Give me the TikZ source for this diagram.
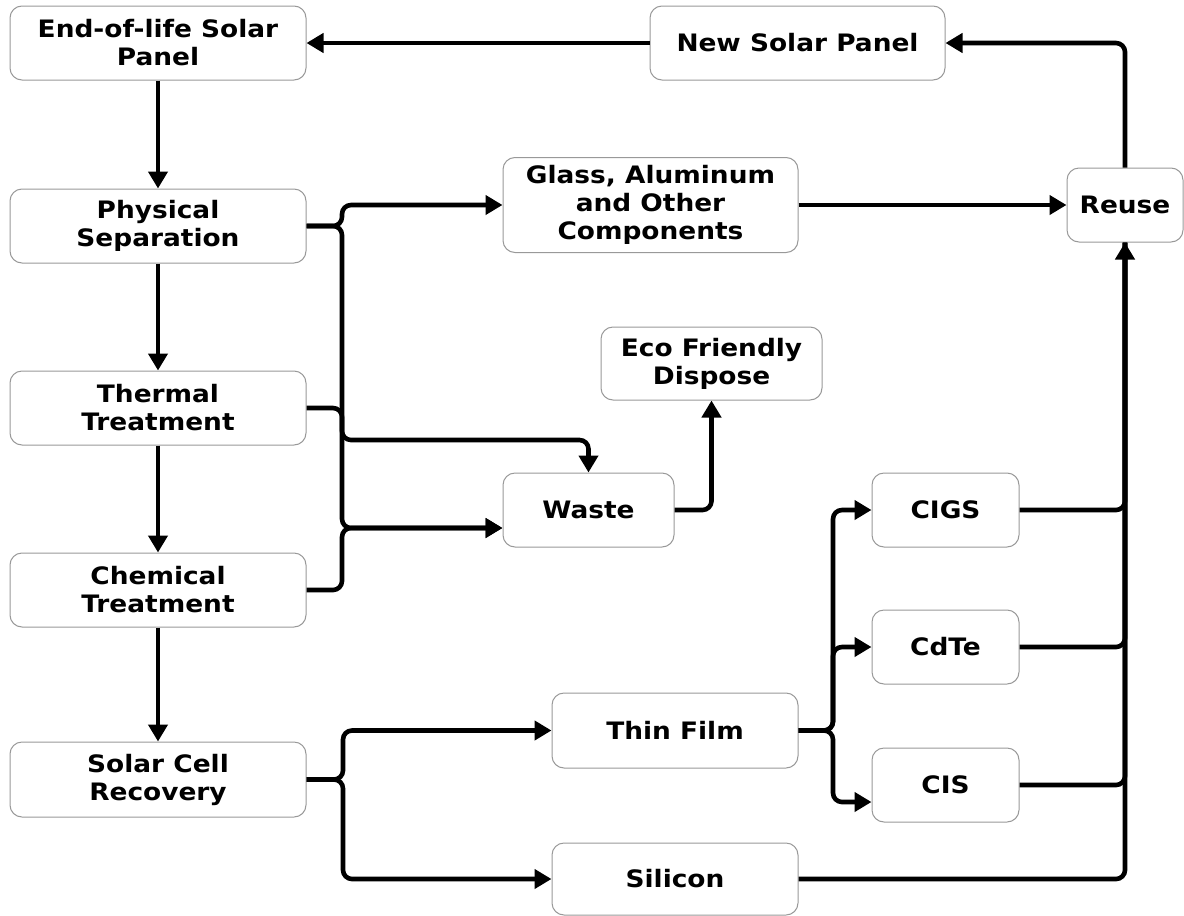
\documentclass[tikz,border=0pt]{standalone}
\usepackage{fontspec}
\setmainfont{DejaVu Sans}[FakeStretch=1.1]
\usetikzlibrary{arrows.meta}
\tikzset{
  box/.style={draw=black!40, line width=1pt, rounded corners=12pt, align=center, inner sep=0pt, fill=white,
    font=\fontsize{24}{28}\selectfont\bfseries},
  conn/.style={line width=4.6pt, rounded corners=9pt},
  arr/.style={conn, -{Triangle[length=17pt,width=19pt]}}
}
\begin{document}
\begin{tikzpicture}[x=1pt,y=-1pt]
\fill[white] (0,0) rectangle (1184,916);
\useasboundingbox (0,0) rectangle (1184,916);

\node[box, minimum width=296pt, minimum height=74pt] (eol) at (158,43) {End-of-life Solar\\Panel};
\node[box, minimum width=295pt, minimum height=74pt] (nsp) at (797.5,43) {New Solar Panel};
\node[box, minimum width=296pt, minimum height=74pt] (phys) at (158,226) {Physical\\Separation};
\node[box, minimum width=295pt, minimum height=95pt] (glass) at (650.5,205) {Glass, Aluminum\\and Other\\Components};
\node[box, minimum width=116pt, minimum height=74pt] (reuse) at (1125,205) {Reuse};
\node[box, minimum width=221pt, minimum height=73pt] (eco) at (711.5,363.5) {Eco Friendly\\Dispose};
\node[box, minimum width=296pt, minimum height=74pt] (therm) at (158,408) {Thermal\\Treatment};
\node[box, minimum width=171pt, minimum height=74pt] (waste) at (588.5,510) {Waste};
\node[box, minimum width=147pt, minimum height=74pt] (cigs) at (945.5,510) {CIGS};
\node[box, minimum width=296pt, minimum height=74pt] (chem) at (158,590) {Chemical\\Treatment};
\node[box, minimum width=147pt, minimum height=74pt] (cdte) at (945.5,647) {CdTe};
\node[box, minimum width=246pt, minimum height=75pt] (thin) at (675,730.5) {Thin Film};
\node[box, minimum width=147pt, minimum height=74pt] (cis) at (945.5,785) {CIS};
\node[box, minimum width=296pt, minimum height=75pt] (scr) at (158,779.5) {Solar Cell\\Recovery};
\node[box, minimum width=246pt, minimum height=72pt] (silicon) at (675,879) {Silicon};

\coordinate (bx) at (342,0);
\coordinate (sx) at (343,0);
\coordinate (tx) at (833,0);
\coordinate (wt) at (0,440);
\coordinate (wl) at ([yshift=-18pt]waste.west);
\coordinate (cl) at ([yshift=-17pt]cis.west);

% main vertical chain
\draw[arr] (eol.south) -- (phys.north);
\draw[arr] (phys.south) -- (therm.north);
\draw[arr] (therm.south) -- (chem.north);
\draw[arr] (chem.south) -- (scr.north);

% top loop
\draw[arr] (nsp.west) -- (eol.east);
\draw[arr] (reuse.north) |- (nsp.east);
\draw[arr] (glass.east) -- (reuse.west);

% separation / treatment bus
\draw[arr] (phys.east) -- (phys.east -| bx) |- (glass.west);
\draw[arr] (phys.east) -- (phys.east -| bx) -- (bx |- wl) -- (wl);
\draw[arr] (chem.east) -- (chem.east -| bx) -- (bx |- wl) -- (wl);
\draw[arr] (therm.east) -- (therm.east -| bx) -- (bx |- wt) -| (waste.north);
\draw[arr] (waste.east) -| (eco.south);

% solar cell recovery
\draw[arr] (scr.east) -- (scr.east -| sx) |- (thin.west);
\draw[arr] (scr.east) -- (scr.east -| sx) |- (silicon.west);

% thin film split
\draw[arr] (thin.east) -- (thin.east -| tx) |- (cigs.west);
\draw[arr] (thin.east) -- (thin.east -| tx) |- (cdte.west);
\draw[arr] (thin.east) -- (thin.east -| tx) |- (cl);

% to reuse
\draw[conn] (cigs.east) -| (reuse.south);
\draw[conn] (cdte.east) -| (reuse.south);
\draw[conn] (cis.east) -| (reuse.south);
\draw[arr] (silicon.east) -| (reuse.south);
\end{tikzpicture}
\end{document}
